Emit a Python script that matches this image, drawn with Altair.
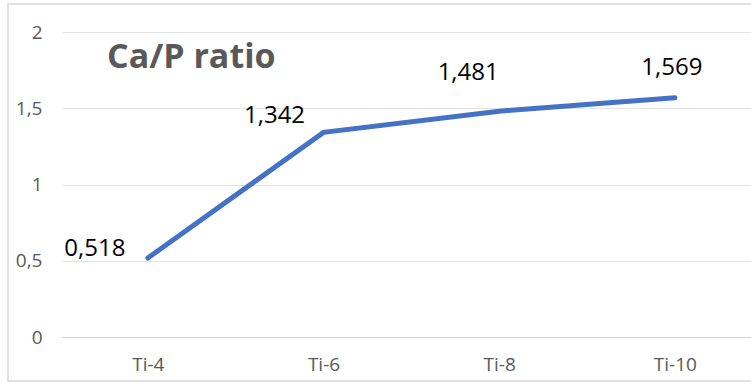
import altair as alt
import pandas as pd

categories = ["Ti-4", "Ti-6", "Ti-8", "Ti-10"]
ratios = [0.518, 1.342, 1.481, 1.569]
labels = ["0,518", "1,342", "1,481", "1,569"]
title_text = "Ca/P ratio"

df = pd.DataFrame({"cat": categories, "val": ratios, "lab": labels})

FONT = "Open Sans"
GRAY = "#595959"

x_enc = alt.X("cat:N", sort=categories,
              scale=alt.Scale(type="point", padding=0.461, align=0.53),
              axis=alt.Axis(title=None, labelAngle=0, labelColor=GRAY, labelFontSize=19,
                            labelFont=FONT, ticks=False, domain=True, domainColor="#d0d0d0",
                            labelPadding=27, labelBaseline="middle", grid=False))
y_enc = alt.Y("val:Q", scale=alt.Scale(domain=[0, 2], nice=False),
              axis=alt.Axis(title=None, values=[0, 0.5, 1, 1.5, 2],
                            labelExpr="replace(format(datum.value, ''), '.', ',')",
                            labelColor=GRAY, labelFontSize=19, labelFont=FONT,
                            ticks=False, domain=False, gridColor="#e3e3e3",
                            labelPadding=20))

base = alt.Chart(df)

frame = base.mark_rect(fill=None, stroke="#d6d6d6", strokeWidth=1.5).encode(
    x=alt.value(-54), x2=alt.value(700), y=alt.value(-28), y2=alt.value(349)
).transform_filter(alt.datum.cat == "Ti-4")

line = base.mark_line(color="#4472C4", strokeWidth=5, strokeCap="round").encode(
    x=x_enc, y=y_enc)

offsets = [(-53, -9), (-49, -16), (-31, -38), (-3, -30)]
texts = []
for cat, (dx, dy) in zip(categories, offsets):
    texts.append(
        base.mark_text(font=FONT, fontSize=24, color="#000000", dx=dx, dy=dy,
                       align="center", baseline="middle")
        .encode(x=alt.X("cat:N", sort=categories), y="val:Q", text="lab:N")
        .transform_filter(alt.datum.cat == cat)
    )

title = base.mark_text(font=FONT, fontSize=34, fontWeight="bold", color=GRAY,
                       align="left", baseline="alphabetic").encode(
    x=alt.value(45), y=alt.value(36), text=alt.value(title_text)
).transform_filter(alt.datum.cat == "Ti-4")

chart = alt.layer(frame, line, *texts, title).properties(
    width=689, height=305,
    autosize=alt.AutoSizeParams(type="none"),
    padding={"left": 62, "top": 32, "right": 0, "bottom": 46},
    background="white",
).configure_view(stroke=None)

chart.save("out.html", embed_options={"renderer": "svg", "actions": False})
